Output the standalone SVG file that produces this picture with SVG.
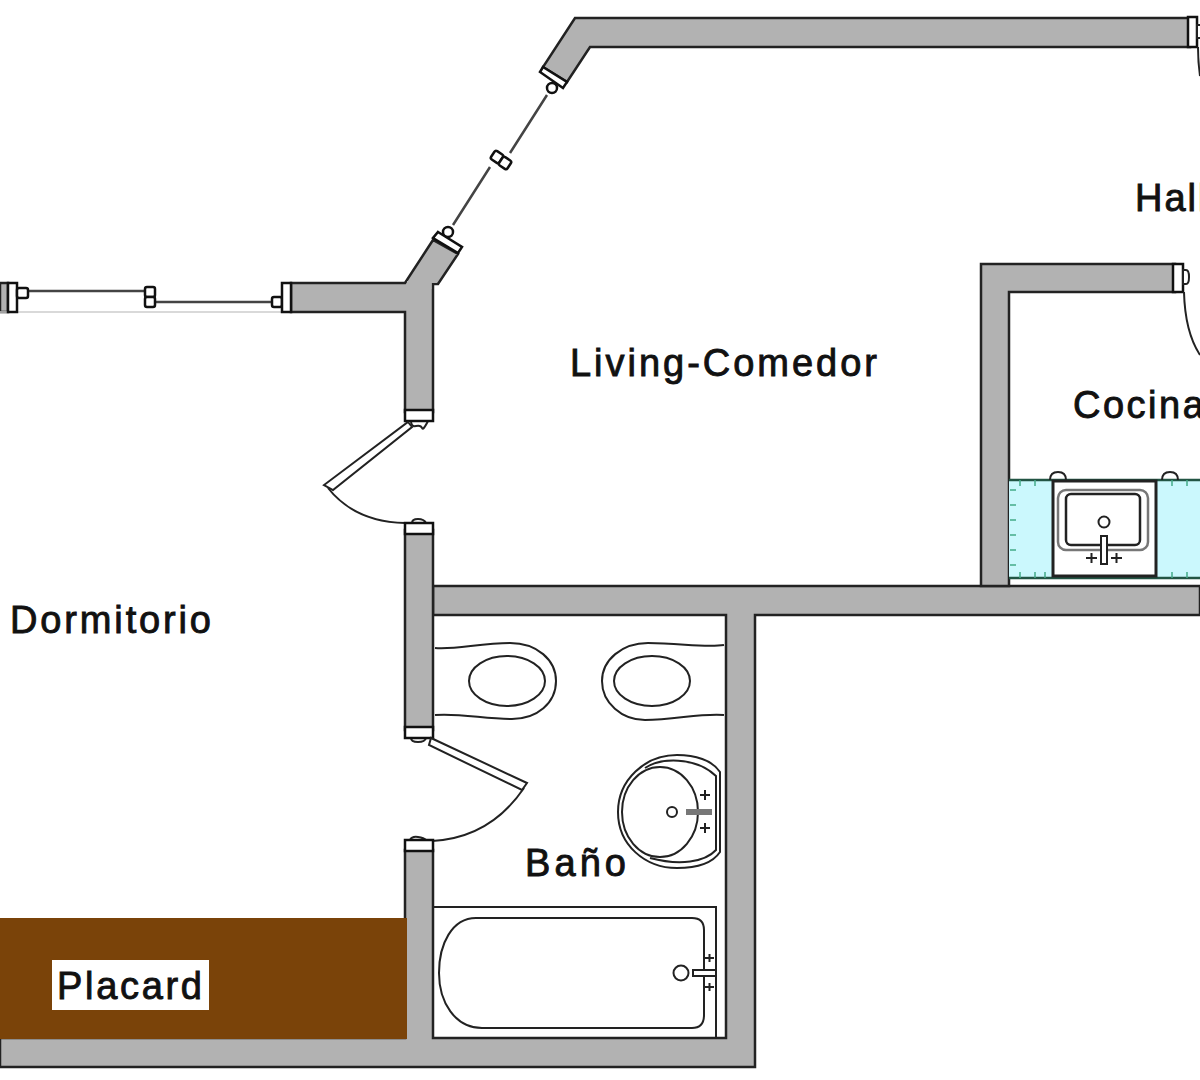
<svg xmlns="http://www.w3.org/2000/svg" width="1200" height="1080" viewBox="0 0 1200 1080">
<style>
.w{fill:#b2b2b2;stroke:#222;stroke-width:2.5;stroke-linejoin:miter}
.n{fill:#b2b2b2;stroke:none}
.c{fill:#fff;stroke:#111;stroke-width:2.5}
.t{fill:#fff;stroke:#222;stroke-width:2}
.a{fill:none;stroke:#222;stroke-width:2}
.l{fill:none;stroke:#444;stroke-width:2.5}
text{font-family:"Liberation Sans",Arial,sans-serif;font-size:38px;fill:#111;stroke:#111;stroke-width:.9}
</style>
<rect width="1200" height="1080" fill="#fff"/>
<g id="walls">
<path class="w" d="M575 18H1190V47H590L567 82L543 67ZM1200 586V615H755V1067H0V1038H405V850H433V1038H726V615H433V586Z"/>
<path class="w" d="M0 283H8V312H0ZM291 283H405L433 240L458 254L438 284H433V412H405V312H291Z"/>
<path class="w" d="M405 530H433V730H405Z"/>
<path class="w" d="M1175 264H981V586H1009V292H1175Z"/>
<rect class="n" x="407" y="281" width="24.500" height="8"/>
<rect class="n" x="431" y="279" width="6" height="4"/>
<rect class="n" x="407" y="1040" width="25" height="25"/>
</g>
<g id="placard">
<rect x="0" y="918" width="407" height="121" fill="#7a4309"/>
<rect x="52" y="960" width="157" height="50" fill="#fff"/>
<text x="57" y="999" textLength="145">Placard</text>
</g>
<g id="window-left">
<path d="M0 312H291" stroke="#ccc" stroke-width="1.5"/>
<path class="l" d="M28 291H145M155 302H272"/>
<rect class="c" x="8" y="283" width="9" height="29"/>
<rect class="c" x="17" y="288" width="11" height="10" rx="2"/>
<rect class="c" x="145" y="287" width="10" height="10" rx="2"/>
<rect class="c" x="145" y="297" width="10" height="10" rx="2"/>
<rect class="c" x="272" y="297" width="10" height="10" rx="2"/>
<rect class="c" x="282" y="283" width="9" height="29"/>
</g>
<g id="window-diagonal">
<path class="l" d="M453 225L490 167M510 153L547 95"/>
<path class="c" d="M543 67L567 82L563 88L540 72Z"/>
<circle class="c" cx="552" cy="88" r="5"/>
<rect class="c" x="-5" y="-5" width="10" height="10" rx="2" transform="translate(497 157) rotate(33)"/>
<rect class="c" x="-5" y="-5" width="10" height="10" rx="2" transform="translate(505 163) rotate(33)"/>
<circle class="c" cx="448" cy="232" r="5"/>
<path class="c" d="M438 232L462 247L458 253L433 238Z"/>
</g>
<g id="door-living">
<path class="t" d="M411 421Q411 427 416 426T422 428T428 421"/>
<rect class="c" x="405" y="410" width="28" height="11"/>
<path class="t" d="M408 422L412 427L333 490L324 485Z"/>
<path class="a" d="M328 488Q355 522 405 523"/>
<path class="t" d="M412 523Q412 519 418 519T426 523"/>
<rect class="c" x="405" y="523" width="28" height="11"/>
</g>
<g id="door-bano">
<path class="t" d="M411 738Q411 742 418 742T426 738"/>
<rect class="c" x="405" y="727" width="28" height="11"/>
<path class="t" d="M431 738L527 783L522 790L429 745Z"/>
<path class="a" d="M524 788Q490 838 432 841"/>
<path class="t" d="M410 840Q412 836 418 837T426 840"/>
<rect class="c" x="405" y="840" width="28" height="11"/>
</g>
<g id="door-hall">
<rect class="c" x="1188" y="17" width="9" height="30"/>
<path class="t" d="M1197 25H1201V38H1197Z"/>
<path class="a" d="M1198 47Q1198 62 1200 76"/>
</g>
<g id="door-cocina">
<rect class="c" x="1173" y="264" width="10" height="28"/>
<path class="t" d="M1183 270H1186Q1189 270 1189 277T1186 284H1183Z"/>
<path class="a" d="M1184 292Q1185 332 1200 355"/>
</g>
<g id="kitchen-counter">
<path d="M1009 480H1200V578H1009Z" fill="#cbf8fd"/>
<path d="M1009 480H1200M1009 578H1200" stroke="#254" stroke-width="2.5"/>
<path d="M1010 490H1016M1010 505H1016M1010 520H1016M1010 535H1016M1010 550H1016M1010 565H1016M1020 480V486M1035 480V486M1020 572V578M1035 572V578M1045 572V578M1172 572V578M1187 572V578M1172 480V486M1187 480V486" stroke="#4a8" stroke-width="1.5"/>
<path class="a" d="M1050 480Q1050 472 1058 472T1066 480M1162 480Q1162 472 1170 472T1178 480"/>
</g>
<g id="kitchen-sink">
<rect x="1053" y="481" width="103" height="95" fill="#fff" stroke="#222" stroke-width="3"/>
<rect x="1058" y="490" width="90" height="60" rx="8" fill="none" stroke="#777" stroke-width="2.5"/>
<rect x="1066" y="494" width="74" height="51" rx="5" fill="#fff" stroke="#222" stroke-width="2.5"/>
<circle class="a" cx="1104" cy="522" r="5.500"/>
<rect x="1101" y="536" width="6" height="28" fill="#fff" stroke="#222" stroke-width="2"/>
<path d="M1086 558H1097M1091.500 553V563M1111 558H1122M1116.500 553V563" stroke="#222" stroke-width="2"/>
</g>
<g id="toilet-left">
<path class="a" d="M435 648C455 650 480 643 510 643C537 643 556 660 556 681C556 703 537 719 512 719C485 719 460 713 435 715"/>
<ellipse class="a" cx="507" cy="681" rx="38" ry="25"/>
</g>
<g id="toilet-right">
<path class="a" d="M724 645C705 648 680 643 648 643C622 643 602 660 602 681C602 703 622 720 645 720C675 720 700 713 724 715"/>
<ellipse class="a" cx="652" cy="681" rx="38" ry="25"/>
</g>
<g id="basin">
<path class="a" d="M677 755C695 755 712 760 720 772V852C712 864 695 868 677 868C645 868 618 845 618 812C618 780 645 755 677 755Z"/>
<path class="a" stroke="#555" d="M645 768C660 758 695 756 716 776V850C705 862 680 866 650 858"/>
<ellipse class="a" cx="660" cy="812" rx="38" ry="45"/>
<circle class="a" cx="672" cy="812" r="5"/>
<rect x="686" y="809" width="26" height="6" fill="#777"/>
<path d="M700 795H710M705 790V800M700 828H710M705 823V833" stroke="#222" stroke-width="2"/>
</g>
<g id="bathtub">
<path class="a" stroke="#555" d="M434 907H716V1038"/>
<path class="a" d="M476 918H692Q704 918 704 930V1015Q704 1028 692 1028H482C455 1028 439 1002 439 973C439 944 452 918 476 918Z"/>
<circle class="a" cx="681" cy="973" r="7.500"/>
<rect x="693" y="970" width="23" height="6" fill="#fff" stroke="#222" stroke-width="2"/>
<path d="M705 958H714M709.500 954V962M705 987H714M709.500 983V991" stroke="#222" stroke-width="2"/>
</g>
<g id="labels">
<text x="570" y="376" textLength="307">Living-Comedor</text>
<text x="10" y="633" textLength="201">Dormitorio</text>
<text x="525" y="876" textLength="101">Baño</text>
<text x="1135" y="211" letter-spacing="2">Hall</text>
<text x="1073" y="418" letter-spacing="2.500">Cocina</text>
</g>
</svg>
